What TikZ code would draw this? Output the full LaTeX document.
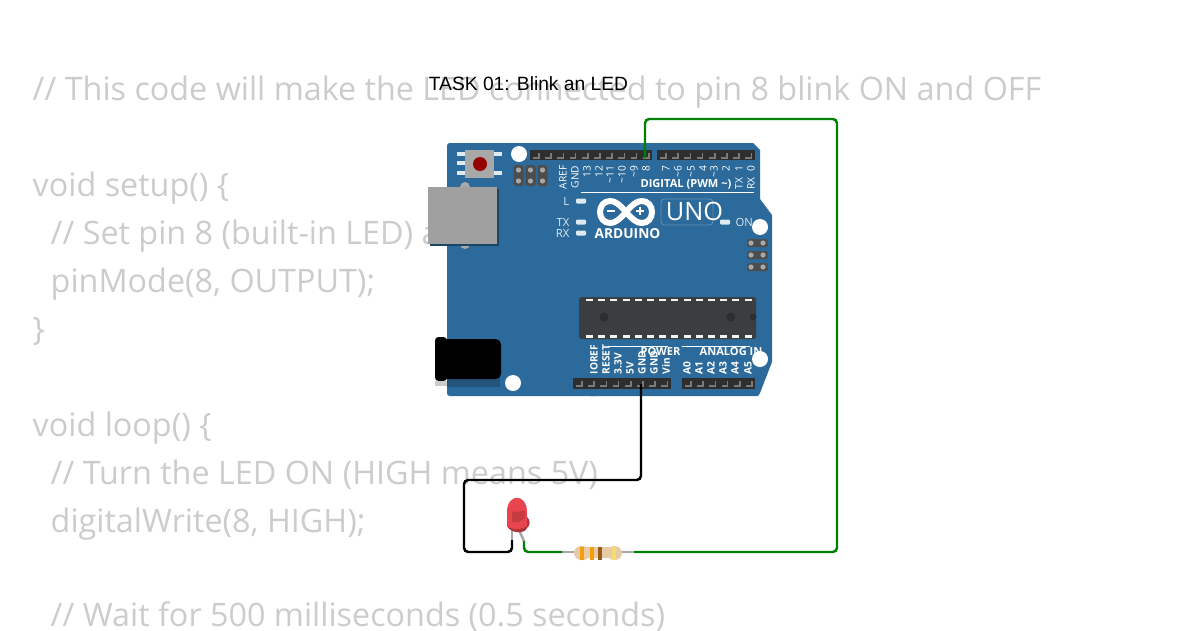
\documentclass[tikz,border=0pt]{standalone}
\usepackage{fontspec}
\setmainfont{Open Sans}
\newfontfamily\titlefont{Liberation Sans}
\definecolor{boardblue}{HTML}{2B6A9A}
\definecolor{boardshade}{HTML}{23557C}
\definecolor{headerdark}{HTML}{2E2E2E}
\definecolor{chipdark}{HTML}{3B3E41}
\definecolor{pingray}{HTML}{7A7A7A}
\definecolor{padgray}{HTML}{A8A8A8}
\definecolor{codegray}{HTML}{CCCCCC}
\definecolor{wiregreen}{HTML}{008000}
\definecolor{restan}{HTML}{E6CBA6}
\definecolor{ledred}{HTML}{E8454E}
\definecolor{bandorange}{HTML}{F59E0B}
\definecolor{bandbrown}{HTML}{9A5A1C}
\definecolor{bandyellow}{HTML}{F2DE6E}
\tikzset{
	codeline/.style={anchor=base west,inner sep=0pt,text=codegray,font=\fontsize{9.19}{11}\selectfont},
	pinlabel/.style={rotate=90,inner sep=0pt,text=white,font=\fontsize{2.9}{3}\selectfont},
	boldlabel/.style={inner sep=0pt,text=white,font=\fontsize{3.15}{4}\selectfont\bfseries},
	smalllabel/.style={inner sep=0pt,text=white!85!boardblue,font=\fontsize{3.2}{4}\selectfont},
	wire/.style={line width=0.7pt,rounded corners=1.2pt},
	boardled/.style={fill=white!85!boardblue,rounded corners=0.3pt},
	resband/.style={line width=1.35pt},
	icspblock/.style={fill=headerdark!85!white,rounded corners=0.5pt},
}
\begin{document}
\begin{tikzpicture}[x=0.01cm,y=-0.01cm]
	\useasboundingbox (0,0) rectangle (1200,630);
	% code behind the board
	\node [codeline] (codea) at (32,100) {// This code will make the LED connected to pin 8 blink ON and OFF};
	\node [codeline] (codeb) at (32,196) {void setup() \{};
	\node [codeline] (codec) at (50,244) {// Set pin 8 (built-in LED) a};
	\node [codeline] (coded) at (50,292) {pinMode(8, OUTPUT);};
	\node [codeline] (codee) at (32,340) {\}};
	\node [codeline] (codef) at (32,436) {void loop() \{};
	\node [codeline] (codeg) at (50,484) {// Turn the LED ON (HIGH means 5V)};
	\node [codeline] (codeh) at (50,532) {digitalWrite(8, HIGH);};
	\node [codeline] (codei) at (50,626) {// Wait for 500 milliseconds (0.5 seconds)};
	\node [inner sep=0pt,font=\titlefont\fontsize{5.47}{6}\selectfont] (title) at (528.5,84) {TASK 01: Blink an LED};
	% board
	\fill [boardblue,rounded corners=0.8pt] (447,150) -- (447,143) -- (600,143) -- (600,396) -- (447,396) -- cycle;
	\fill [boardblue] (590,143) -- (753,143) -- (760,150) -- (760,199) -- (772,215) -- (772,362) -- (760,393) -- (758,396) -- (590,396) -- cycle;
	\fill [boardshade] (447,378) rectangle (500,387);
	% usb and power jack
	\fill [padgray] (465,187) circle (5);
	\fill [padgray] (465,244) circle (5);
	\fill [black!35!boardblue] (430,189) rectangle (499,246);
	\fill [padgray!95!black] (428,187) rectangle (497,244);
	\fill [black,rounded corners=1.5pt] (440,339) rectangle (501,379);
	\fill [black,rounded corners=1pt] (435,337) rectangle (447,381);
	\fill [padgray!60!white] (435,381) rectangle (447,386);
	% reset button
	\foreach \y in {154,163,173} \fill [white!85!boardblue] (457,\y-2) rectangle (465,\y+2);
	\foreach \y in {154,173} \fill [white!85!boardblue] (494,\y-2) rectangle (502,\y+2);
	\fill [padgray] (465,150) rectangle (494,178);
	\fill [black!10!red!65!black] (480,164) circle (7);
	% mounting holes
	\foreach \x/\y in {519/154,513/383,760/227,760/359} \fill [white] (\x,\y) circle (8);
	% icsp pads
	\foreach \x in {518.5,530.5,542.5} {
		\fill [icspblock] (\x-5,165) rectangle (\x+5,186);
		\foreach \y in {170,181} \fill [padgray] (\x,\y) circle (2.6);
	}
	\foreach \y in {243,255,267} {
		\fill [icspblock] (747,\y-4) rectangle (768,\y+4);
		\foreach \x in {751,763} \fill [padgray] (\x,\y) circle (2.6);
	}
	% headers
	\foreach \xa/\ya/\xb/\yb in {530/150/652/160,657/150/755/160,573/378/671/389,682/378/755/389}
		\fill [headerdark] (\xa,\ya) rectangle (\xb,\yb);
	\foreach \i in {0,...,9} \draw [pingray,line width=0.5pt] (533+12.2*\i,158) -- (539+12.2*\i,158) -- (539+12.2*\i,153);
	\foreach \i in {0,...,7} \draw [pingray,line width=0.5pt] (660+12.2*\i,158) -- (666+12.2*\i,158) -- (666+12.2*\i,153);
	\foreach \i in {0,...,7} \draw [pingray,line width=0.5pt] (576+12.2*\i,386) -- (582+12.2*\i,386) -- (582+12.2*\i,381);
	\foreach \i in {0,...,5} \draw [pingray,line width=0.5pt] (685+12.2*\i,386) -- (691+12.2*\i,386) -- (691+12.2*\i,381);
	% chip
	\fill [chipdark,rounded corners=0.5pt] (579,297) rectangle (756,339);
	\foreach \i in {0,...,13} {
		\fill [white!90!gray] (586+12.2*\i,298.5) rectangle (593+12.2*\i,301);
		\fill [white!90!gray] (586+12.2*\i,335) rectangle (593+12.2*\i,337.5);
	}
	\foreach \x in {604,731} \fill [headerdark] (\x,317) circle (4.5);
	\fill [headerdark] (753,317) circle (3.5);
	% top labels
	\foreach \x/\t in {563/AREF,575/GND,587/13,599/12,610/\textasciitilde11,622/\textasciitilde10,634/\textasciitilde9,646/8,666/7,678/\textasciitilde6,691/\textasciitilde5,703/4,714/\textasciitilde3,726/2,739/1,751/0}
		\node [pinlabel,anchor=east] at (\x,165) {\t};
	\node [pinlabel,anchor=west] (txlabel) at (739,190) {TX};
	\node [pinlabel,anchor=west] (rxlabel) at (751,190) {RX};
	\node [boldlabel] (digital) at (686,184) {DIGITAL (PWM \textasciitilde)};
	\draw [white,line width=0.25pt] (581,192) -- (754,192);
	% board leds
	\foreach \x/\y in {581/201,581/222,581/233,725/222} \fill [boardled] (\x-5,\y-2.5) rectangle (\x+5,\y+2.5);
	\node [smalllabel,anchor=east] (llabel) at (570,201) {L};
	\node [smalllabel,anchor=east] (tlabel) at (570,222) {TX};
	\node [smalllabel,anchor=east] (rlabel) at (570,233) {RX};
	\node [smalllabel,anchor=west] (onlabel) at (735,222) {ON};
	% logo
	\draw [white,line width=1.7pt] (626,212) .. controls (619,204) and (615,201) .. (610,201) .. controls (604,201) and (600,206) .. (600,212) .. controls (600,218) and (604,223) .. (610,223) .. controls (615,223) and (619,220) .. (626,212) .. controls (633,204) and (637,201) .. (642,201) .. controls (648,201) and (652,206) .. (652,212) .. controls (652,218) and (648,223) .. (642,223) .. controls (637,223) and (633,220) .. (626,212) -- cycle;
	\draw [white,line width=0.6pt] (607,211) -- (615,211) (636,211) -- (644,211) (640,207) -- (640,215);
	\node [boldlabel,font=\fontsize{3.9}{4}\selectfont\bfseries] (arduino) at (627.5,234) {ARDUINO};
	\draw [white!25!boardblue,line width=0.25pt,rounded corners=1pt] (661,199) rectangle (713,225);
	\node [inner sep=0pt,text=white,font=\fontsize{7.2}{8}\selectfont] (uno) at (694.5,211) {UNO};
	% bottom labels
	\foreach \x/\t in {594/IOREF,606/RESET,618/3.3V,630/5V,642/GND,654/GND,666/Vin,687/A0,699/A1,711/A2,723/A3,735/A4,748/A5}
		\node [pinlabel,anchor=west,font=\fontsize{2.9}{3}\selectfont\bfseries] at (\x,375) {\t};
	\node [boldlabel] (power) at (660.5,352) {POWER};
	\node [boldlabel] (analog) at (731,352) {ANALOG IN};
	\draw [white,line width=0.25pt] (608,346) -- (668,346) (682,346) -- (750,346);
	% led and resistor
	\coordinate (pineight) at (645,158);
	\coordinate (pingnd) at (641,384);
	\coordinate (ledcathode) at (512,540);
	\coordinate (ledanode) at (524,541);
	\coordinate (resleft) at (562,552);
	\coordinate (resright) at (634,552);
	\draw [gray!70,line width=0.7pt] (512,530) -- (ledcathode);
	\draw [gray!70,line width=0.7pt] (519,530) -- (ledanode);
	\fill [ledred!75!black] (507,518) -- (507,526) .. controls (511,534) and (525,534) .. (527,528) .. controls (530,526) and (531,520) .. (527,517) -- cycle;
	\fill [ledred] (507,526) -- (507,512) .. controls (507,493) and (527,493) .. (527,512) -- (527,526) .. controls (522,530) and (512,530) .. (507,526) -- cycle;
	\fill [ledred!85!black] (512,512) -- (525,511) -- (525,518) -- (519,522) -- (512,522) -- cycle;
	\draw [gray!70,line width=0.7pt] (resleft) -- (resright);
	\fill [restan] (585,547) rectangle (612,558);
	\fill [restan,rounded corners=2pt] (574,546) rectangle (590,560);
	\fill [restan,rounded corners=2pt] (607,546) rectangle (622,560);
	\foreach \x/\c in {582/bandorange,592/bandorange,600/bandbrown,614/bandyellow} \draw [resband,\c] (\x,546.5) -- (\x,559.5);
	% wires
	\draw [wire,wiregreen] (pineight) -- (645,119) -- (837,119) -- (837,552) -- (resright);
	\draw [wire,wiregreen] (ledanode) -- (524,552) -- (resleft);
	\draw [wire,black] (pingnd) -- (641,480) -- (464,480) -- (464,552) -- (512,552) -- (ledcathode);
\end{tikzpicture}
\end{document}
